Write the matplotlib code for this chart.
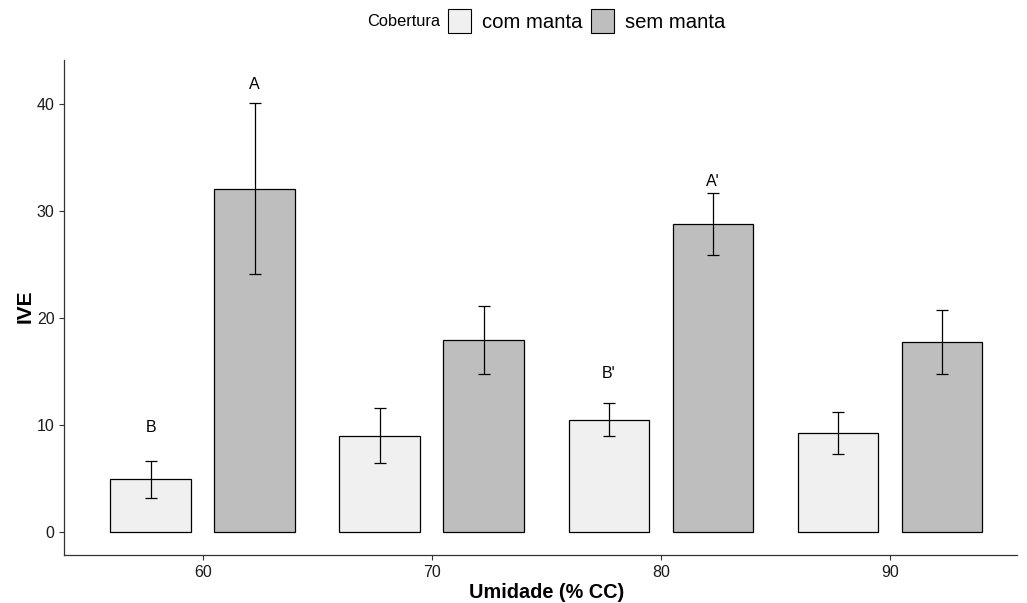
import numpy as np
import matplotlib.pyplot as plt
from matplotlib.patches import Patch

plt.rcParams['font.family'] = ['Liberation Sans', 'DejaVu Sans']

# data
umidade = [60, 70, 80, 90]
com_manta = [4.9, 9.0, 10.5, 9.25]
com_manta_err = [1.7, 2.6, 1.55, 1.95]
sem_manta = [32.1, 17.95, 28.8, 17.75]
sem_manta_err = [8.0, 3.2, 2.9, 3.0]
letras_com = ['B', '', "B'", '']
letras_com_y = [9.8, 0, 14.8, 0]
letras_sem = ['A', '', "A'", '']
letras_sem_y = [41.9, 0, 32.8, 0]

fig = plt.figure(figsize=(10.27, 6.03), dpi=100)
ax = fig.add_axes([0.0626, 0.0796, 0.9276, 0.8209])

x = np.array(umidade, dtype=float)
off = 2.27
w = 3.52
ax.bar(x - off, com_manta, width=w, color='#F0F0F0', edgecolor='black', linewidth=0.9, zorder=2)
ax.bar(x + off, sem_manta, width=w, color='#BEBEBE', edgecolor='black', linewidth=0.9, zorder=2)
ax.errorbar(x - off, com_manta, yerr=com_manta_err, fmt='none', ecolor='black',
            elinewidth=0.9, capsize=4.2, capthick=0.9, zorder=3)
ax.errorbar(x + off, sem_manta, yerr=sem_manta_err, fmt='none', ecolor='black',
            elinewidth=0.9, capsize=4.2, capthick=0.9, zorder=3)

for xi, t, yi in zip(x - off, letras_com, letras_com_y):
    if t:
        ax.text(xi, yi, t, ha='center', va='center', fontsize=11.5)
for xi, t, yi in zip(x + off, letras_sem, letras_sem_y):
    if t:
        ax.text(xi, yi, t, ha='center', va='center', fontsize=11.5)

ax.set_xlim(53.96, 95.54)
ax.set_ylim(-2.18, 44.15)
ax.set_xticks(umidade)
ax.set_yticks([0, 10, 20, 30, 40])
ax.tick_params(labelsize=11.5, length=3.5, width=0.8, colors='#333333', labelcolor='#1a1a1a')
for s in ['top', 'right']:
    ax.spines[s].set_visible(False)
for s in ['left', 'bottom']:
    ax.spines[s].set_color('#333333')
    ax.spines[s].set_linewidth(0.9)

# axis titles placed by hand to match the reference
fig.text(547 / 1027, 1 - 592 / 603, 'Umidade (% CC)', ha='center', va='center',
         fontsize=14.3, fontweight='bold')
fig.text(25 / 1027, 1 - 306 / 603, 'IVE', ha='center', va='center', rotation=90,
         fontsize=15, fontweight='bold')

handles = [Patch(facecolor='#F0F0F0', edgecolor='black', linewidth=0.8),
           Patch(facecolor='#BEBEBE', edgecolor='black', linewidth=0.8)]
fig.legend(handles, ['com manta', 'sem manta'], ncol=2, frameon=False,
           loc='center left', bbox_to_anchor=(448 / 1027, 1 - 21 / 603), fontsize=14.6,
           borderpad=0, borderaxespad=0,
           handlelength=1.13, handleheight=1.4, handletextpad=0.54, columnspacing=0.45)
fig.text(404 / 1027, 1 - 21 / 603, 'Cobertura', ha='center', va='center', fontsize=11.8)

fig.savefig('out.png', dpi=100)
